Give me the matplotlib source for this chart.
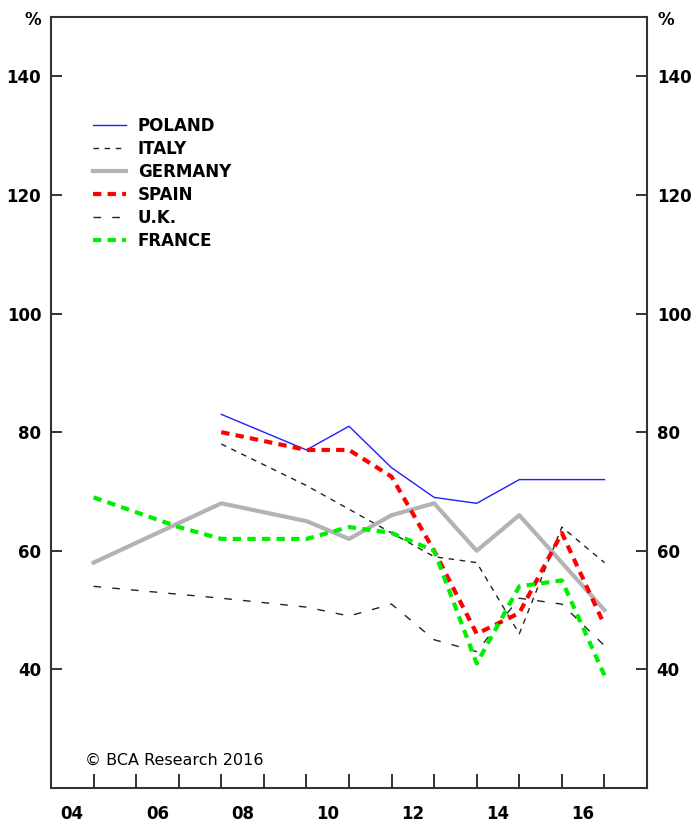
import numpy as np
import matplotlib
matplotlib.use("Agg")
import matplotlib.pyplot as plt

plt.rcParams['font.family'] = ['DejaVu Sans']

# annual values, %
poland_years = [2007, 2009, 2010, 2011, 2012, 2013, 2014, 2015, 2016]
poland = [83, 77, 81, 74, 69, 68, 72, 72, 72]

italy_years = [2007, 2009, 2010, 2011, 2012, 2013, 2014, 2015, 2016]
italy = [78, 71, 67, 63, 59, 58, 46, 64, 58]

germany_years = [2004, 2007, 2009, 2010, 2011, 2012, 2013, 2014, 2015, 2016]
germany = [58, 68, 65, 62, 66, 68, 60, 66, 58, 50]

spain_years = [2007, 2009, 2010, 2011, 2012, 2013, 2014, 2015, 2016]
spain = [80, 77, 77, 72.5, 60, 46, 49.5, 63, 47.5]

uk_years = [2004, 2007, 2009, 2010, 2011, 2012, 2013, 2014, 2015, 2016]
uk = [54, 52, 50.5, 49, 51, 45, 43, 52, 51, 44]

france_years = [2004, 2005, 2006, 2007, 2008, 2009, 2010, 2011, 2012, 2013, 2014, 2015, 2016]
france = [69, 66.5, 64, 62, 62, 62, 64, 63, 60, 41, 54, 55, 39]

yticks = [40, 60, 80, 100, 120, 140]
xlabels = ['04', '06', '08', '10', '12', '14', '16']


def end_of_year(years):
    # annual observations are plotted at the end of each year
    return np.array(years) + 1


fig = plt.figure(figsize=(6.92, 8.23), dpi=100)
ax = fig.add_axes([51 / 692, 1 - 788 / 823, 596 / 692, 771 / 823])

ax.plot(end_of_year(poland_years), poland, color='#1f1fff', lw=1.0, label='POLAND')
ax.plot(end_of_year(italy_years), italy, color='#222222', lw=1.0,
        dashes=(4, 4), label='ITALY')
ax.plot(end_of_year(germany_years), germany, color='#b3b3b3', lw=3.0,
        label='GERMANY')
ax.plot(end_of_year(spain_years), spain, color='#ff0000', lw=3.0,
        dashes=(2, 1.5), label='SPAIN')
ax.plot(end_of_year(uk_years), uk, color='#222222', lw=1.0,
        dashes=(5.5, 8), label='U.K.')
ax.plot(end_of_year(france_years), france, color='#00ee00', lw=3.0,
        dashes=(2, 1.5), label='FRANCE')

ax.set_xlim(2004, 2018)
ax.set_ylim(20, 150)

ax.set_xticks(np.arange(2005, 2018))
ax.set_xticklabels([])
ax.set_xticks(np.arange(2004.5, 2017, 2), minor=True)
ax.set_xticklabels(xlabels, minor=True, fontweight='bold', fontsize=12)
ax.tick_params(axis='x', which='major', direction='in', length=10, width=1.3,
               color='#222222')
ax.tick_params(axis='x', which='minor', length=0, pad=12)

ax.set_yticks(yticks)
ax.set_yticklabels([str(v) for v in yticks], fontweight='bold', fontsize=12)
ax.tick_params(axis='y', which='major', direction='in', length=8, width=1.3,
               color='#222222', left=True, right=True,
               labelleft=True, labelright=True, pad=7)

for s in ax.spines.values():
    s.set_linewidth(1.5)
    s.set_color('#333333')

ax.text(-0.016, 0.996, '%', transform=ax.transAxes, ha='right', va='center',
        fontsize=12, fontweight='bold')
ax.text(1.017, 0.996, '%', transform=ax.transAxes, ha='left', va='center',
        fontsize=12, fontweight='bold')

ax.text(0.057, 0.036, '\u00a9 BCA Research 2016', transform=ax.transAxes,
        ha='left', va='center', fontsize=11.5)

leg = ax.legend(loc='upper left', bbox_to_anchor=(0.045, 0.89), frameon=False,
                handlelength=2.0, handletextpad=0.7, labelspacing=0.3,
                prop={'weight': 'bold', 'size': 12})

fig.savefig('out.png', dpi=100)
